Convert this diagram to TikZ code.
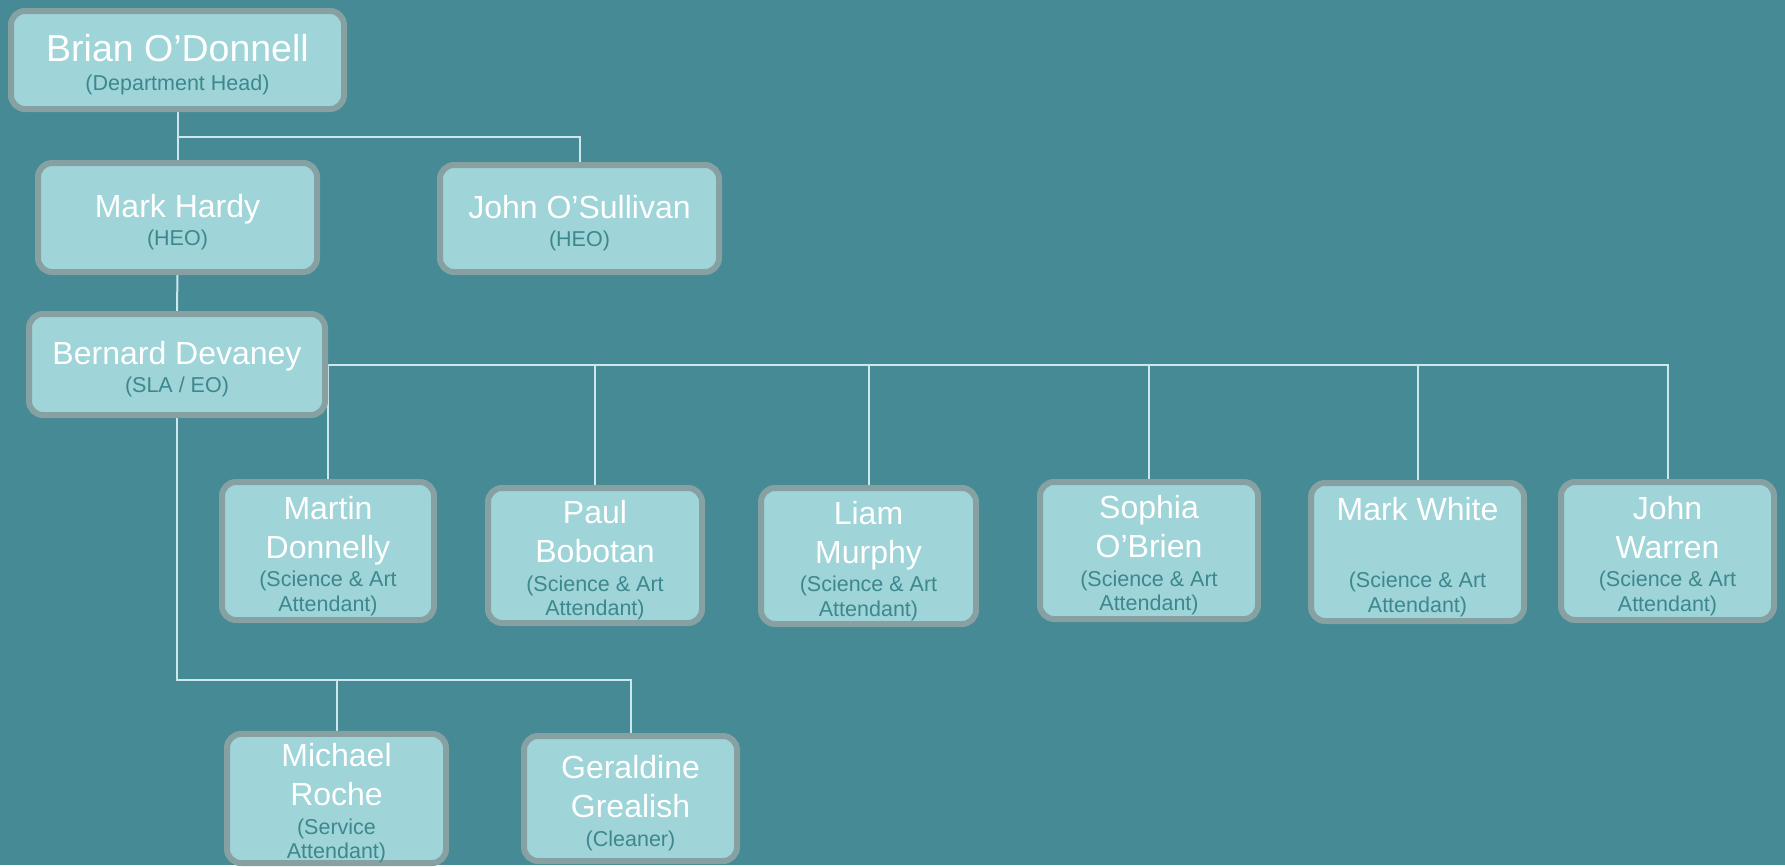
\documentclass[tikz,border=0pt]{standalone}
\usepackage{fontspec}
\setmainfont{Liberation Sans}
\usetikzlibrary{backgrounds}
\definecolor{pagebg}{RGB}{69,138,148}
\definecolor{boxfill}{RGB}{159,212,216}
\definecolor{boxedge}{RGB}{135,160,162}
\definecolor{roletext}{RGB}{60,136,142}
\definecolor{wire}{RGB}{205,232,236}
\newcommand\namefont{\fontsize{32}{39}\selectfont\color{white}}
\newcommand\headfont{\fontsize{37.5}{42}\selectfont\color{white}}
\newcommand\rolefont{\fontsize{21.5}{24.5}\selectfont\color{roletext}}
\newcommand\boxtext{\centering\spaceskip=0pt\xspaceskip=0pt}
\newcommand\staff[2]{\boxtext{\namefont\rule{0pt}{1.02em}#1\par}\vspace{4pt}{\rolefont #2\par}}
\begin{document}
\begin{tikzpicture}[x=1pt,y=-1pt,
    person/.style={draw=boxedge,line width=6pt,fill=boxfill,rounded corners=14pt,
                   inner xsep=4pt,inner ysep=0pt},
    link/.style={draw=wire,line width=2pt}]
            \node[person,text width=325pt,minimum height=98pt] (head) at (177.5,60)
                {\boxtext{\headfont\rule{0pt}{.98em}Brian O'Donnell\par}\vspace{4pt}{\rolefont (Department Head)\par}};
            \node[person,text width=271pt,minimum height=109pt] (hardy) at (177.5,217.5) {\staff{Mark Hardy}{(HEO)}};
            \node[person,text width=271pt,minimum height=107pt] (osull) at (579.5,218.5) {\staff{John O'Sullivan}{(HEO)}};
            \node[person,text width=288pt,minimum height=101pt] (devaney) at (177,364.5) {\staff{Bernard Devaney}{(SLA / EO)}};
            \node[person,text width=204pt,minimum height=138pt] (donnelly) at (328,551) {\staff{Martin\\Donnelly}{(Science \& Art\\Attendant)}};
            \node[person,text width=206pt,minimum height=135pt] (bobotan) at (595,555.5) {\staff{Paul\\Bobotan}{(Science \& Art\\Attendant)}};
            \node[person,text width=207pt,minimum height=136pt] (murphy) at (868.5,556) {\staff{Liam\\Murphy}{(Science \& Art\\Attendant)}};
            \node[person,text width=210pt,minimum height=137pt] (obrien) at (1149,550.5) {\staff{Sophia\\O'Brien}{(Science \& Art\\Attendant)}};
            \node[person,text width=205pt,minimum height=138pt] (white) at (1417.5,552) {\staff{Mark White\\\mbox{}}{(Science \& Art\\Attendant)}};
            \node[person,text width=205pt,minimum height=138pt] (warren) at (1667.5,551) {\staff{John\\Warren}{(Science \& Art\\Attendant)}};
            \node[person,text width=211pt,minimum height=125pt] (roche) at (336.5,798.5) {\staff{Michael\\Roche}{(Service\\Attendant)}};
            \node[person,text width=205pt,minimum height=125pt] (grealish) at (630.5,798.5) {\staff{Geraldine\\Grealish}{(Cleaner)}};
            \coordinate (headbus) at (177.5,137);
            \coordinate (lowbus) at (177,680);
            \begin{pgfonlayer}{background}
                \fill[pagebg] (0,0) rectangle (1785,865);
                \begin{scope}[every path/.style={link}]
                    \draw (head) -- (hardy);
                    \draw (headbus) -| (osull);
                    \draw (hardy) -- (devaney);
                    \draw (devaney.center) -| (donnelly);
                    \draw (devaney.center) -| (bobotan);
                    \draw (devaney.center) -| (murphy);
                    \draw (devaney.center) -| (obrien);
                    \draw (devaney.center) -| (white);
                    \draw (devaney.center) -| (warren);
                    \draw (devaney) -- (lowbus) -| (grealish);
                    \draw (lowbus) -| (roche);
                \end{scope}
            \end{pgfonlayer}
    \end{tikzpicture}
\end{document}
